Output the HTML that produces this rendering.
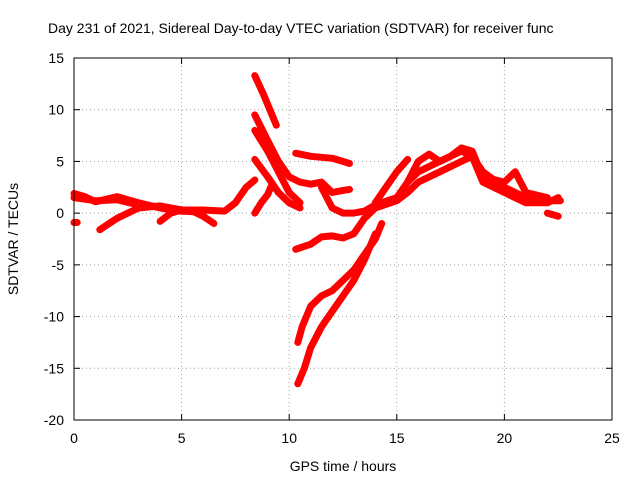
<!DOCTYPE html>
<html><head><meta charset="utf-8"><style>
body{margin:0;background:#fff;}
svg{display:block;font-family:"Liberation Sans",sans-serif;}
</style></head><body>
<svg id="chart" width="640" height="480" viewBox="0 0 640 480">
<text x="48" y="33" font-size="14" fill="#000">Day 231 of 2021, Sidereal Day-to-day VTEC variation (SDTVAR) for receiver func</text>
<g id="grid"></g>
<g id="axes"></g>
<g id="series"></g>
<rect x="74" y="58" width="538" height="362" fill="none" stroke="#000" stroke-width="1"/>
<text x="343" y="471" font-size="14" text-anchor="middle">GPS time / hours</text>
<text x="18" y="239" font-size="14" text-anchor="middle" transform="rotate(-90 18 239)">SDTVAR / TECUs</text>
</svg>
<script>
const xTicks=[0,5,10,15,20,25];
const yTicks=[15,10,5,0,-5,-10,-15,-20];
const s0=[[0,-0.9],[0.15,-0.9]];
const s1=[[0,1.5],[1,1.2],[2,1.3],[3,0.8],[4,0.6],[5,0.3],[6,0.3],[7,0.2],[7.5,1],[8,2.5],[8.4,3.2]];
const s2=[[0,1.9],[0.5,1.6],[1,1.1],[2,1.6],[3,1.0],[4,0.5],[5,0.2],[6,0.1]];
const s3=[[1.2,-1.6],[2,-0.5],[3,0.5],[4,0.7],[5,0.3]];
const s4=[[4,-0.8],[4.5,0],[5,0.3],[5.5,0.2],[6,-0.3],[6.5,-1]];
const s5=[[8.4,13.3],[8.8,11.5],[9.2,9.5],[9.4,8.5]];
const s6=[[8.4,9.5],[9,7],[9.5,5],[10,3.5],[10.5,3],[11,2.8],[11.5,3],[12,2],[12.5,2.2],[12.8,2.3]];
const s7=[[8.4,8],[9,6],[9.5,4],[10,2],[10.5,1]];
const s8=[[8.4,5.2],[9,3.5],[9.5,2],[10,1],[10.5,0.5]];
const s9=[[8.4,0],[8.7,1],[9,1.8],[9.2,2.8]];
const s10=[[10.3,5.8],[11,5.5],[11.5,5.4],[12,5.3],[12.5,5],[12.8,4.8]];
const s11=[[11.5,2.5],[12,0.5],[12.5,0],[13,0],[13.5,0.2],[14,0.8],[15,1.5],[15.5,3],[16,4],[17,5],[18,6],[18.5,5.5],[19,4],[20,2.5],[21,1.5],[22,1.2],[22.6,1.2]];
const s12=[[10.3,-3.5],[11,-3],[11.5,-2.3],[12,-2.2],[12.5,-2.4],[13,-2],[13.5,-0.5],[14,0.5],[15,1.2],[15.5,2],[16,3],[17,4],[18,5],[18.5,5.5],[19,3],[20,2],[21,1],[22,1],[22.5,1.5]];
const s13=[[10.4,-12.5],[10.6,-11],[11,-9],[11.5,-8],[12,-7.5],[12.5,-6.5],[13,-5.5],[13.5,-4],[14,-2.5],[14.3,-1]];
const s14=[[10.4,-16.5],[10.7,-15],[11,-13],[11.5,-11],[12,-9.5],[12.5,-8],[13,-6.5],[13.5,-4.5],[14,-2]];
const s15=[[14,1],[14.5,2.5],[15,4],[15.5,5.2]];
const s16=[[15.5,3],[16,5],[16.5,5.7],[17,5],[17.5,5.5],[18,6.3],[18.5,6],[19,3.5],[20,3],[20.5,4],[21,2],[22,1.5]];
const s17=[[22,0],[22.5,-0.3]];
const allSeries=[s0,s1,s2,s3,s4,s5,s6,s7,s8,s9,s10,s11,s12,s13,s14,s15,s16,s17];
const NS="http://www.w3.org/2000/svg";
const X0=74,X1=612,Y0=420,Y1=58;
function xs(v){return X0+(v-0)/(25-0)*(X1-X0);}
function ys(v){return Y0-(v+20)/(15+20)*(Y0-Y1);}
const grid=document.getElementById('grid'),axes=document.getElementById('axes'),ser=document.getElementById('series');
function mk(t,a,p){const e=document.createElementNS(NS,t);for(const k in a)e.setAttribute(k,a[k]);p.appendChild(e);return e;}
xTicks.forEach(v=>{
  const x=xs(v);
  if(v>0&&v<25){const g=mk('line',{x1:x,y1:Y1,x2:x,y2:Y0,stroke:'#a0a0a0','stroke-dasharray':'1,3'},grid);
  
  }
  mk('line',{x1:x,y1:Y0,x2:x,y2:Y0-6,stroke:'#000'},axes);
  mk('line',{x1:x,y1:Y1,x2:x,y2:Y1+6,stroke:'#000'},axes);
  const t=mk('text',{x:x,y:Y0+23,'font-size':14,'text-anchor':'middle'},axes);t.textContent=v;
  
  
});
yTicks.forEach(v=>{
  const y=ys(v);
  if(v>-20&&v<15){const g=mk('line',{x1:X0,y1:y,x2:X1,y2:y,stroke:'#a0a0a0','stroke-dasharray':'1,3'},grid);
  
  }
  mk('line',{x1:X0,y1:y,x2:X0+6,y2:y,stroke:'#000'},axes);
  mk('line',{x1:X1,y1:y,x2:X1-6,y2:y,stroke:'#000'},axes);
  const t=mk('text',{x:X0-10,y:y+5,'font-size':14,'text-anchor':'end'},axes);t.textContent=v;
  
  
});
allSeries.forEach((s,i)=>{
  const pts=s.map(p=>xs(p[0]).toFixed(1)+','+ys(p[1]).toFixed(1)).join(' ');
  const pl=mk('polyline',{points:pts,fill:'none',stroke:'#ff0000','stroke-width':7,'stroke-linejoin':'round','stroke-linecap':'round'},ser);
  
  
});
</script>
</body></html>
